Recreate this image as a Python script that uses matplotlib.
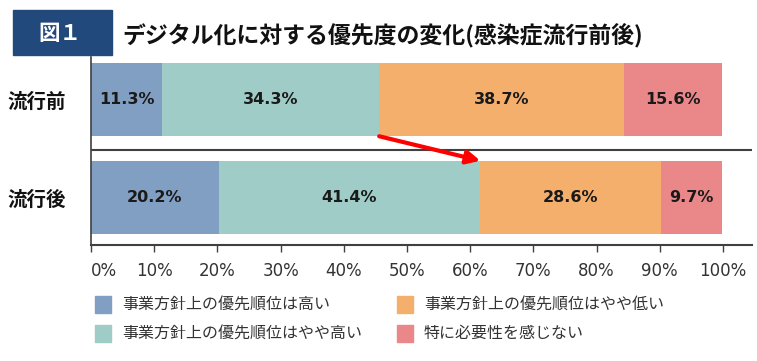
import matplotlib
matplotlib.use("Agg")
import matplotlib.pyplot as plt
import matplotlib.patches as mpatches
import numpy as np

plt.rcParams['font.family'] = ['Noto Sans CJK JP', 'DejaVu Sans']

# data
rows = ["流行前", "流行後"]
categories = ["事業方針上の優先順位は高い", "事業方針上の優先順位はやや高い",
              "事業方針上の優先順位はやや低い", "特に必要性を感じない"]
before = [11.3, 34.3, 38.7, 15.6]
after = [20.2, 41.4, 28.6, 9.7]
colors = ["#819FC3", "#A0CCC8", "#F5AF6D", "#EA8789"]
xticks = [0, 10, 20, 30, 40, 50, 60, 70, 80, 90, 100]
title = "デジタル化に対する優先度の変化(感染症流行前後)"

W, H = 757, 361
fig = plt.figure(figsize=(W / 100, H / 100), dpi=100)


def fx(px):
    return px / W


def fy(py):
    return 1 - py / H


ax = fig.add_axes([fx(91), fy(245), fx(752) - fx(91), fy(57) - fy(245)])

values = np.array([before, after])
bar_h = 0.75
for i, vals in enumerate(values):
    left = 0
    for j, v in enumerate(vals):
        ax.barh(i, v, left=left, height=bar_h, color=colors[j], edgecolor="none")
        ax.text(left + v / 2, i, f"{v:.1f}%", ha="center", va="center",
                fontsize=11.5, fontweight="bold", color="#1a1a1a",
                family="DejaVu Sans")
        left += v

ax.set_xlim(0, 100 * (752 - 91) / (723 - 91))
ax.set_ylim(1 + (245 - 197.5) / 98, -(99.5 - 57) / 98)

# separator between rows
ax.axhline((150 - 99.5) / 98, color="#404040", lw=1.5)

# arrow from before's top-two boundary to after's
cb = np.cumsum(before)[1]
ca = np.cumsum(after)[1]
ax.annotate("", xy=(ca, 1 - bar_h / 2), xytext=(cb, bar_h / 2),
            arrowprops=dict(arrowstyle="-|>", color="#FF0000", lw=3,
                            mutation_scale=20, shrinkA=0, shrinkB=0))

for s in ["top", "right"]:
    ax.spines[s].set_visible(False)
ax.spines["left"].set_color("#404040")
ax.spines["bottom"].set_color("#404040")
ax.spines["left"].set_linewidth(1.2)
ax.spines["bottom"].set_linewidth(1.5)
ax.set_yticks([])
ax.set_xticks(xticks)
ax.set_xticklabels([f"{t}%" for t in xticks], fontsize=12, color="#333333",
                   family="DejaVu Sans")
ax.get_xticklabels()[0].set_ha("left")
ax.tick_params(axis="x", length=5, width=1, color="#404040", pad=7)

# row labels
for i, r in enumerate(rows):
    fig.text(fx(7), fy(102.5 + i * 98), r, ha="left", va="center",
             fontsize=14, fontweight="bold", color="#111111")

# title box
fig.patches.append(mpatches.Rectangle((fx(13), fy(55)), fx(112) - fx(13), fy(10) - fy(55),
                                      transform=fig.transFigure, color="#21497C"))
fig.text(fx(60), fy(33), "図１", ha="center", va="center", fontsize=15.5,
         fontweight="bold", color="white")
fig.text(fx(122), fy(35), title, ha="left", va="center", fontsize=16.5,
         fontweight="bold", color="#111111")

# legend
leg_pos = [(95, 304), (95, 333), (397, 304), (397, 333)]
for (px, py), c, lab in zip(leg_pos, colors, categories):
    fig.patches.append(mpatches.Rectangle((fx(px), fy(py + 8.5)), fx(16), 17 / H,
                                          transform=fig.transFigure, color=c))
    fig.text(fx(px + 27), fy(py), lab, ha="left", va="center", fontsize=11.5,
             color="#333333")

fig.savefig("out.png", dpi=100)
